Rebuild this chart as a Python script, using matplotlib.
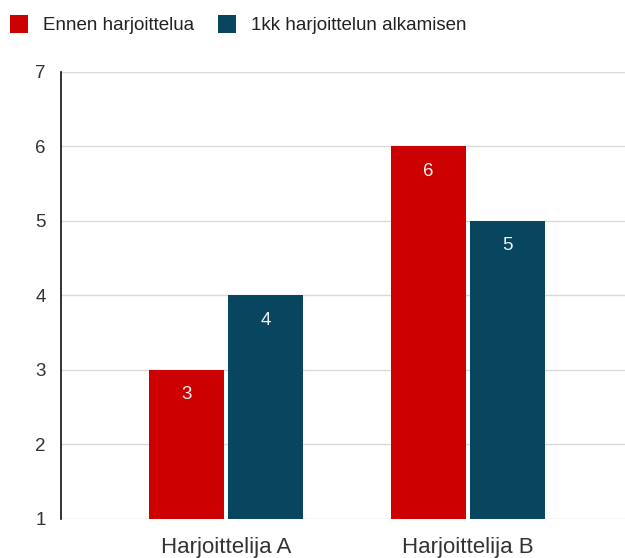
import matplotlib.pyplot as plt
import numpy as np

plt.rcParams['font.family'] = ['Liberation Sans', 'DejaVu Sans']

categories = ["Harjoittelija A", "Harjoittelija B"]
series_names = ["Ennen harjoittelua", "1kk harjoittelun alkamisen"]
before = [3, 6]
after = [4, 5]
colors = ["#cc0000", "#08455f"]
yticks = [1, 2, 3, 4, 5, 6, 7]

fig = plt.figure(figsize=(6.25, 5.58), dpi=100)
ax = fig.add_axes([0.0976, 0.0699, 0.9024, 0.8011])

x = np.arange(len(categories))
w = 0.31
off = 0.164
bars = []
for vals, dx, c in [(before, -off, colors[0]), (after, off, colors[1])]:
    b = ax.bar(x + dx, vals, width=w, color=c, zorder=3)
    bars.append(b)
    for xi, v in zip(x + dx, vals):
        ax.text(xi, v - 0.33, str(v), ha='center', va='center',
                color='#f2f2f2', fontsize=13.5, zorder=4)

ax.set_ylim(1, 7)
ax.set_xlim(-0.682, 1.649)
ax.set_yticks(yticks)
ax.set_xticks(x)
ax.set_xticklabels(categories)
ax.grid(axis='y', color='#d9d9d9', linewidth=1, zorder=0)
ax.tick_params(axis='both', length=0, colors='#333333')
ax.tick_params(axis='y', pad=11, labelsize=13.5)
ax.tick_params(axis='x', pad=13, labelsize=16)
for s in ['top', 'right', 'bottom']:
    ax.spines[s].set_visible(False)
ax.spines['left'].set_color('#111111')
ax.spines['left'].set_linewidth(1.2)

fig.legend([bars[0], bars[1]], series_names, loc='upper left',
           bbox_to_anchor=(-0.011, 1.004), ncol=2, frameon=False, fontsize=13.5,
           handlelength=0.95, handleheight=1.1, handletextpad=0.8,
           columnspacing=1.3, labelcolor='#222222')

fig.savefig("out.png", dpi=100)
